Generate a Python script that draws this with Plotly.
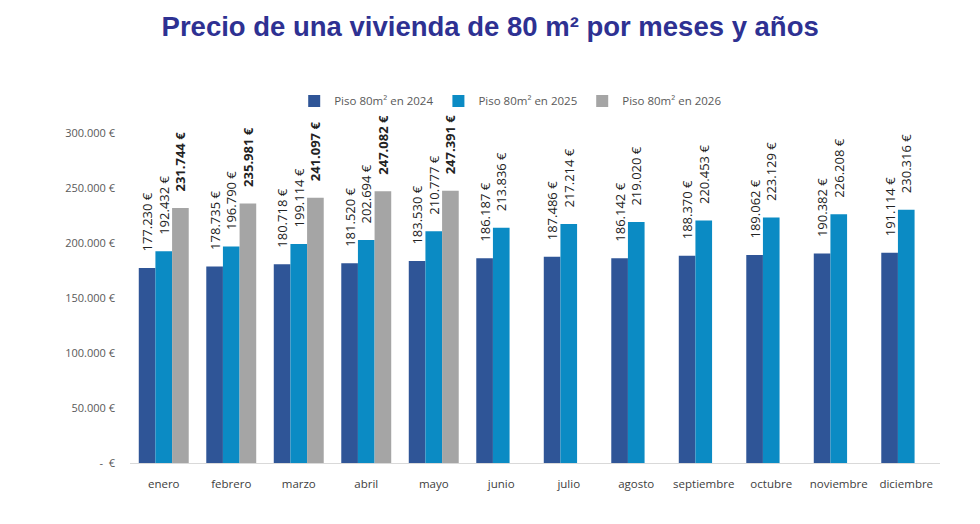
import plotly.graph_objects as go

# Meses y precios (euros)
meses = ["enero", "febrero", "marzo", "abril", "mayo", "junio", "julio",
         "agosto", "septiembre", "octubre", "noviembre", "diciembre"]

precio_2024 = [177230, 178735, 180718, 181520, 183530, 186187, 187486,
               186142, 188370, 189062, 190382, 191114]
precio_2025 = [192432, 196790, 199114, 202694, 210777, 213836, 217214,
               219020, 220453, 223129, 226208, 230316]
precio_2026 = [231744, 235981, 241097, 247082, 247391]

ticks_y = [0, 50000, 100000, 150000, 200000, 250000, 300000]


def euros(v):
    if v == 0:
        return "-  €"
    return f"{v:,.0f} €".replace(",", ".")


def add_serie(fig, valores, nombre, color, negrita=False):
    # espacios no separables al principio para despegar el texto de la barra
    textos = [euros(v) for v in valores]
    if negrita:
        textos = [f"<b>{t}</b>" for t in textos]
    textos = ["\u00a0" * 4 + t for t in textos]
    fig.add_trace(go.Bar(
        x=meses[:len(valores)],
        y=valores,
        name=nombre,
        marker=dict(color=color, line=dict(width=0)),
        text=textos,
        textposition="outside",
        textangle=-90,
        constraintext="none",
        textfont=dict(family="Open Sans, DejaVu Sans", size=13, color="#222222"),
        cliponaxis=False,
    ))


fig = go.Figure()
add_serie(fig, precio_2024, "Piso 80m² en 2024", "#2F5597")
add_serie(fig, precio_2025, "Piso 80m² en 2025", "#0B8BC4")
add_serie(fig, precio_2026, "Piso 80m² en 2026", "#A5A5A5", negrita=True)

fig.update_layout(
    title=dict(
        text="<b>Precio de una vivienda de 80 m² por meses y años</b>",
        x=0.492, xanchor="center", y=0.964, yanchor="middle",
        font=dict(family="Liberation Sans, Arial", size=27.5, color="#2E3192"),
    ),
    width=980,
    height=524,
    margin=dict(l=122, r=48, t=125, b=69),
    plot_bgcolor="white",
    paper_bgcolor="white",
    barmode="group",
    bargap=0.26,
    bargroupgap=0,
    legend=dict(
        orientation="h", x=0.47, xanchor="center", y=1.097, yanchor="middle",
        font=dict(family="Open Sans, DejaVu Sans", size=11.5, color="#595959"),
        itemwidth=30, tracegroupgap=0,
    ),
)

fig.update_xaxes(
    showgrid=False,
    showline=True, linecolor="#D9D9D9", linewidth=1,
    ticks="", ticklabelstandoff=10,
    tickfont=dict(family="Open Sans, DejaVu Sans", size=11.5, color="#404040"),
)
fig.update_yaxes(
    range=[0, 300000],
    tickvals=ticks_y,
    ticktext=[euros(v) for v in ticks_y],
    showgrid=False, zeroline=False, showline=False,
    ticks="", ticklabelstandoff=14,
    tickfont=dict(family="Open Sans, DejaVu Sans", size=11, color="#595959"),
)

fig.write_html("out.html")
